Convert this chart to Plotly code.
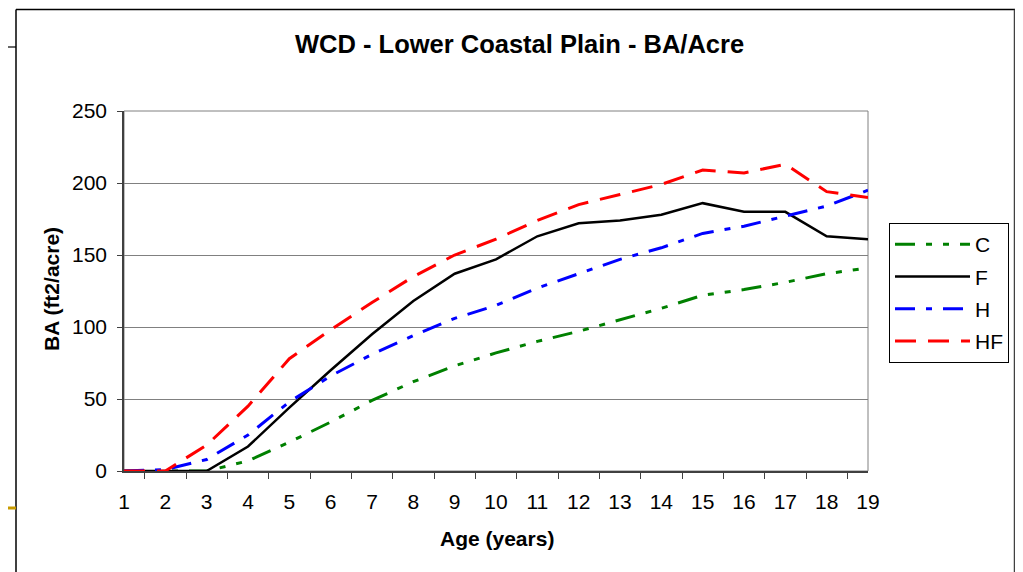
import plotly.graph_objects as go

FONT = "Liberation Sans, Arial, sans-serif"

# --- data ---
ages = [str(a) for a in range(1, 20)]
c_vals  = [0, 0, 0, 7, 20, 34, 49, 62, 73, 82, 90, 97, 105, 113, 122, 126, 131, 137, 141]
f_vals  = [0, 0, 0, 17, 44, 70, 95, 118, 137, 147, 163, 172, 174, 178, 186, 180, 180, 163, 161]
h_vals  = [0, 1, 8, 25, 48, 66, 81, 94, 106, 115, 127, 137, 147, 155, 165, 170, 177, 184, 195]
hf_vals = [0, 0, 18, 45, 78, 98, 117, 135, 150, 161, 174, 185, 192, 199, 209, 207, 213, 194, 190]
y_ticks = [0, 50, 100, 150, 200, 250]

# the page body has an 8px margin, so the figure starts at (8, 8) in the window
OFF = 8
W, H = 1023 - OFF, 572 - OFF
# plot area in window pixels: x 124..868, y 111..471
L, R, T, B = 124 - OFF, 868 - OFF, 111 - OFF, 471 - OFF


def px(x):
    return (x - OFF - L) / (R - L)


def py(y):
    return (B - (y - OFF)) / (B - T)


series = [
    ("C", c_vals, "#008000", "20px,11px,6px,11px,6px,11px", 3),
    ("F", f_vals, "#000000", "solid", 2.5),
    ("H", h_vals, "#0000FF", "20px,11px,6px,11px", 3),
    ("HF", hf_vals, "#FF0000", "21px,12px", 3),
]

fig = go.Figure()
for name, vals, color, dash, w in series:
    fig.add_trace(go.Scatter(
        x=ages, y=vals, name=name, mode="lines", legendgroup=name,
        line=dict(color=color, dash=dash, width=w),
    ))

shapes = [
    # plot-area frame (gray)
    dict(type="rect", xref="paper", yref="paper", x0=0, x1=1, y0=0, y1=1,
         line=dict(color="#808080", width=1), layer="below"),
    # chart outer border (top edge sits on the first visible rows)
    dict(type="line", xref="paper", yref="paper", x0=px(16), x1=px(16), y0=py(9.5), y1=py(580),
         line=dict(color="#000000", width=1.5)),
    dict(type="line", xref="paper", yref="paper", x0=px(16), x1=px(1015), y0=py(9.5), y1=py(9.5),
         line=dict(color="#000000", width=1.5)),
    dict(type="line", xref="paper", yref="paper", x0=px(1015), x1=px(1015), y0=py(9.5), y1=py(580),
         line=dict(color="#404040", width=2.5)),
    # slide artifacts outside the chart
    dict(type="line", xref="paper", yref="paper", x0=px(0), x1=px(16), y0=py(47), y1=py(47),
         line=dict(color="#000000", width=1.2)),
    dict(type="line", xref="paper", yref="paper", x0=px(0), x1=px(16), y0=py(508), y1=py(508),
         line=dict(color="#C89B00", width=3)),
]

annotations = [
    dict(text="<b>WCD - Lower Coastal Plain - BA/Acre</b>", xref="paper", yref="paper",
         x=px(519), y=py(44), xanchor="center", yanchor="middle", showarrow=False,
         font=dict(size=25.5, color="#000", family=FONT)),
    dict(text="<b>Age (years)</b>", xref="paper", yref="paper",
         x=px(497), y=py(538), xanchor="center", yanchor="middle", showarrow=False,
         font=dict(size=21, color="#000", family=FONT)),
    dict(text="<b>BA (ft2/acre)</b>", xref="paper", yref="paper", textangle=-90,
         x=px(51), y=py(289), xanchor="center", yanchor="middle", showarrow=False,
         font=dict(size=21, color="#000", family=FONT)),
]

fig.update_layout(
    width=W, height=H,
    margin=dict(l=L, r=W - R, t=T, b=H - B),
    paper_bgcolor="#fff", plot_bgcolor="#fff",
    font=dict(family=FONT, color="#000", size=21),
    shapes=shapes, annotations=annotations,
    legend=dict(x=px(889), y=py(223), xanchor="left", yanchor="top",
                bordercolor="#000", borderwidth=1, bgcolor="#fff",
                font=dict(size=21, family=FONT), tracegroupgap=2,
                itemwidth=75),
    xaxis=dict(type="category", tickson="boundaries", ticks="outside", ticklen=6,
               tickcolor="#404040", showline=True, linecolor="#404040", linewidth=1.5,
               showgrid=False, tickfont=dict(size=21), ticklabelstandoff=11),
    yaxis=dict(range=[0, 250], tickvals=y_ticks, ticks="outside", ticklen=5,
               tickcolor="#404040", showline=True, linecolor="#404040", linewidth=1.5,
               showgrid=True, gridcolor="#808080", gridwidth=1, zeroline=False,
               tickfont=dict(size=21), ticklabelstandoff=6),
)

fig.write_html("out.html")
